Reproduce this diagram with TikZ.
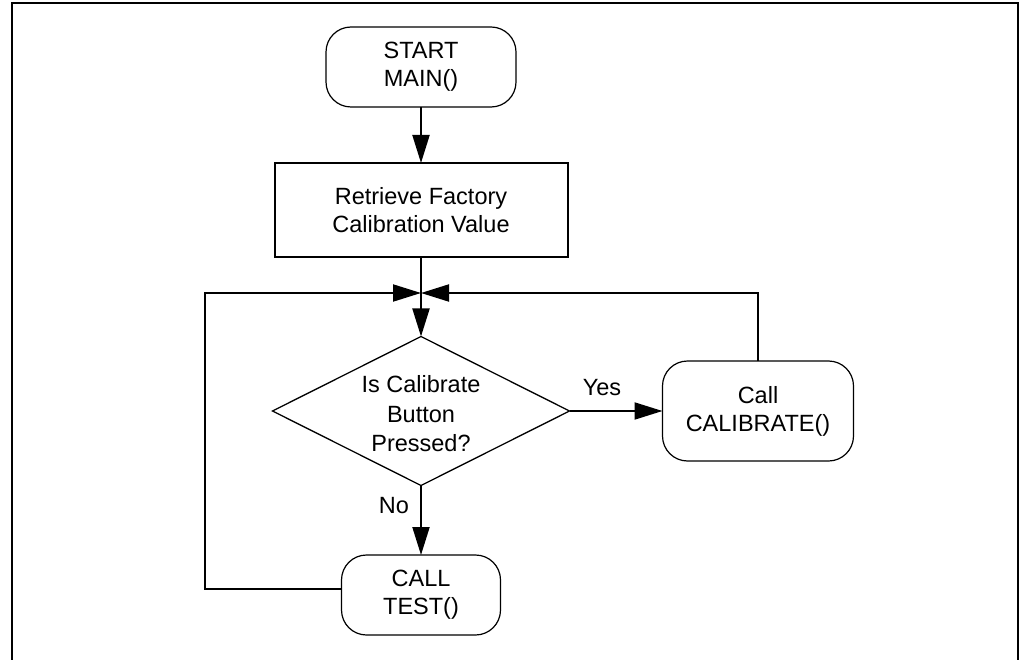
\documentclass[tikz,border=0pt]{standalone}
\usepackage{fontspec}
\setmainfont{Liberation Sans}
\usetikzlibrary{arrows.meta,shapes.geometric}
\begin{document}
\begin{tikzpicture}[x=1pt,y=-1pt,
  txt/.style={font=\fontsize{23.5}{28}\selectfont, align=center},
  term/.style={txt, draw, line width=1.2pt, rounded corners=25pt, inner sep=0pt, outer sep=0pt},
  proc/.style={txt, draw, line width=2pt, inner sep=0pt, outer sep=0pt},
  decision/.style={draw, diamond, line width=1.3pt, inner sep=0pt, outer sep=0pt},
  conn/.style={line width=2pt},
  arr/.style={conn, -{Triangle[length=28pt,width=17pt]}},
  lbl/.style={txt, inner sep=0pt}]
\useasboundingbox (0,0) rectangle (1019,660);
\draw[line width=2pt] (12,661) -- (12,3) -- (1018,3) -- (1018,661);

\node[term, minimum width=190pt, minimum height=80pt] (start) at (421,67) {START\\MAIN()};
\node[proc, minimum width=293pt, minimum height=94pt] (ret) at (421,210) {Retrieve Factory\\Calibration Value};
\coordinate (j) at (421,293);
\node[decision, minimum width=297pt, minimum height=149pt] (dia) at (421,411) {};
\node[lbl, font=\fontsize{23.5}{29.5}\selectfont] (diatext) at (421,414) {Is Calibrate\\Button\\Pressed?};
\node[term, minimum width=191pt, minimum height=100pt] (cal) at (758,411) {Call\\CALIBRATE()};
\node[term, minimum width=159pt, minimum height=80pt] (test) at (421,595) {CALL\\TEST()};
\coordinate (lc) at (205,293);

\node[lbl] (yes) at (602,388) {Yes};
\node[lbl] (no) at (394,506) {No};

\draw[arr] (start) -- (ret);
\draw[conn] (ret) -- (j);
\draw[arr] (j) -- (dia);
\draw[arr] (dia) -- (cal);
\draw[arr] (dia) -- (test);
\draw[arr] ([yshift=6pt]test.west) -| (lc) -- (j);
\draw[arr] (cal.north) |- (j);
\end{tikzpicture}
\end{document}
